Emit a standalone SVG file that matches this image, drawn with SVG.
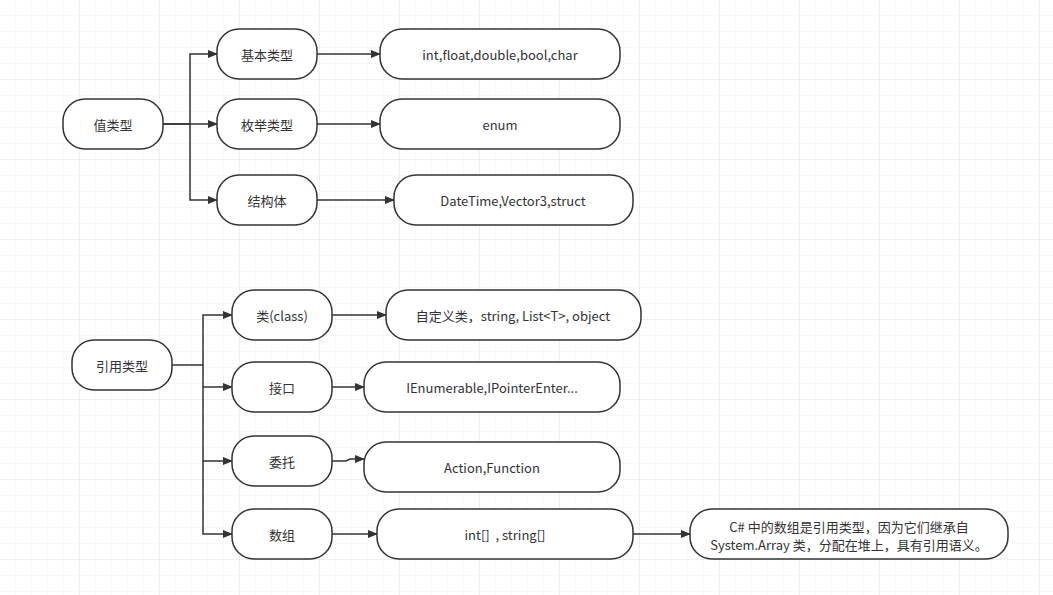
<svg xmlns="http://www.w3.org/2000/svg" width="1053" height="595" viewBox="0 0 1053 595">
<defs>
<pattern id="g" width="16" height="16" patternUnits="userSpaceOnUse"><path d="M16 0V16M0 16H16" fill="none" stroke="#f0f0f0" stroke-width="1"/></pattern>
<pattern id="G" width="80" height="80" patternUnits="userSpaceOnUse"><rect width="80" height="80" fill="url(#g)"/><path d="M80 0V80M0 80H80" fill="none" stroke="#e6e6e6" stroke-width="1"/></pattern>
<marker id="a" markerWidth="10" markerHeight="8" refX="9" refY="4" orient="auto" markerUnits="userSpaceOnUse"><path d="M0 0L10 4L0 8Z" fill="#333"/></marker>
</defs>
<style>
.n rect{fill:#fff;stroke:#333;stroke-width:1.5}
.n text{font-family:"Noto Sans CJK SC","Liberation Sans",sans-serif;font-size:13px;fill:#333;text-anchor:middle;dominant-baseline:central}
#c path{fill:none;stroke:#333;stroke-width:1.5;marker-end:url(#a)}
</style>
<rect width="1053" height="595" fill="#fff"/>
<rect width="1053" height="595" fill="url(#G)"/>
<g id="c">
<path d="M163 124H190V54H217"/>
<path d="M163 124H217"/>
<path d="M190 124V200H217"/>
<path d="M317 54H380"/>
<path d="M317 124H380"/>
<path d="M317 200H394"/>
<path d="M172 365H203V315H232"/>
<path d="M203 365V387H232"/>
<path d="M203 387V461H232"/>
<path d="M203 461V534H232"/>
<path d="M332 315H386"/>
<path d="M332 387H364"/>
<path d="M332 461H346L350 459H364"/>
<path d="M332 534H377"/>
<path d="M633 534H690"/>
</g>
<g id="v" class="n"><rect x="63" y="99" width="100" height="50" rx="22"/><text x="113" y="124">值类型</text></g>
<g id="v1" class="n"><rect x="217" y="29" width="100" height="50" rx="22"/><text x="267" y="54">基本类型</text></g>
<g id="v2" class="n"><rect x="217" y="99" width="100" height="50" rx="22"/><text x="267" y="124">枚举类型</text></g>
<g id="v3" class="n"><rect x="217" y="175" width="100" height="50" rx="22"/><text x="267" y="200">结构体</text></g>
<g id="v1d" class="n"><rect x="380" y="29" width="240" height="50" rx="22"/><text x="500" y="54">int,float,double,bool,char</text></g>
<g id="v2d" class="n"><rect x="380" y="99" width="240" height="50" rx="22"/><text x="500" y="124">enum</text></g>
<g id="v3d" class="n"><rect x="394" y="175" width="239" height="50" rx="22"/><text x="513" y="200">DateTime,Vector3,struct</text></g>
<g id="r" class="n"><rect x="72" y="340" width="100" height="50" rx="22"/><text x="122" y="365">引用类型</text></g>
<g id="r1" class="n"><rect x="232" y="290" width="100" height="50" rx="22"/><text x="282" y="315">类(class)</text></g>
<g id="r2" class="n"><rect x="232" y="362" width="100" height="50" rx="22"/><text x="282" y="387">接口</text></g>
<g id="r3" class="n"><rect x="232" y="436" width="100" height="50" rx="22"/><text x="282" y="461">委托</text></g>
<g id="r4" class="n"><rect x="232" y="509" width="100" height="50" rx="22"/><text x="282" y="534">数组</text></g>
<g id="r1d" class="n"><rect x="386" y="290" width="255" height="50" rx="22"/><text x="513" y="315">自定义类，string, List&lt;T&gt;, object</text></g>
<g id="r2d" class="n"><rect x="364" y="362" width="256" height="50" rx="22"/><text x="492" y="387">IEnumerable,IPointerEnter...</text></g>
<g id="r3d" class="n"><rect x="364" y="442" width="256" height="50" rx="22"/><text x="492" y="467">Action,Function</text></g>
<g id="r4d" class="n"><rect x="377" y="509" width="256" height="50" rx="22"/><text x="505" y="534" xml:space="preserve">int[]  , string[]</text></g>
<g id="note" class="n"><rect x="690" y="509" width="318" height="50" rx="22"/><text x="849" y="526">C# 中的数组是引用类型，因为它们继承自</text><text x="849" y="544">System.Array 类，分配在堆上，具有引用语义。</text></g>
</svg>
